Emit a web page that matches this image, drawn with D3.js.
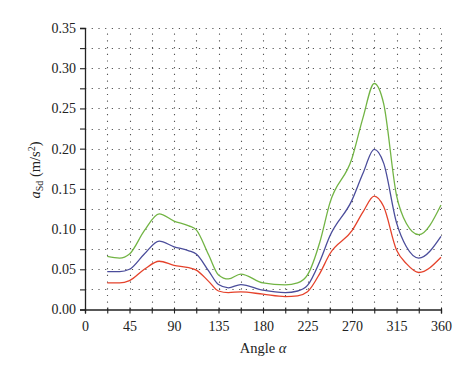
<!DOCTYPE html>
<html>
<head>
<meta charset="utf-8">
<script src="https://cdn.jsdelivr.net/npm/d3@7"></script>
<style>
  html, body { margin: 0; padding: 0; background: #fff; }
  svg { display: block; }
  .tick text { font-family: "Liberation Serif", "Times New Roman", serif; font-size: 14px; fill: #222; }
</style>
</head>
<body>
<svg id="chart" width="474" height="379"></svg>
<script>
const angles = [22.5, 35, 45, 60, 75, 90, 105, 112.5, 125, 135, 145, 157.5, 180, 202.5, 215, 225, 237.5, 247.5, 270, 281, 292.5, 302, 315, 325, 337.5, 360];
const greenVals = [0.066, 0.064, 0.069, 0.098, 0.119, 0.110, 0.104, 0.099, 0.068, 0.043, 0.038, 0.044, 0.033, 0.0305, 0.033, 0.043, 0.084, 0.132, 0.188, 0.238, 0.281, 0.256, 0.142, 0.107, 0.093, 0.130];
const blueVals  = [0.047, 0.047, 0.050, 0.069, 0.085, 0.078, 0.073, 0.069, 0.048, 0.031, 0.027, 0.031, 0.024, 0.021, 0.023, 0.030, 0.060, 0.091, 0.136, 0.169, 0.199, 0.182, 0.108, 0.078, 0.064, 0.091];
const redVals   = [0.033, 0.033, 0.036, 0.050, 0.060, 0.055, 0.052, 0.049, 0.035, 0.023, 0.021, 0.022, 0.019, 0.016, 0.017, 0.022, 0.045, 0.069, 0.098, 0.121, 0.141, 0.128, 0.074, 0.057, 0.046, 0.065];
const xTicks = d3.range(0, 360.01, 22.5);
const yTicks = d3.range(0, 0.3501, 0.025);
const xLabelTicks = [0, 45, 90, 135, 180, 225, 270, 315, 360];

const svg = d3.select("#chart");
const x = d3.scaleLinear().domain([0, 360]).range([85, 441]);
const y = d3.scaleLinear().domain([0, 0.35]).range([309.5, 28]);

// grid
const grid = svg.append("g").attr("stroke", "#555").attr("stroke-width", 1.1).attr("stroke-dasharray", "1.2,5.5");
grid.selectAll(".hg").data(yTicks.filter(d => d > 0.001)).join("line")
  .attr("x1", x(0)).attr("x2", x(360))
  .attr("y1", d => Math.round(y(d)) + 0.5).attr("y2", d => Math.round(y(d)) + 0.5);
grid.selectAll(".vg").data(xTicks.filter(d => d > 0)).join("line")
  .attr("x1", d => Math.round(x(d)) + 0.5).attr("x2", d => Math.round(x(d)) + 0.5)
  .attr("y1", y(0)).attr("y2", y(0.35));

// lines
const line = (vals) => d3.line().x((d, i) => x(angles[i])).y(d => y(d)).curve(d3.curveMonotoneX)(vals);
const series = [
  { vals: greenVals, color: "#72b444" },
  { vals: blueVals, color: "#4b4d9b" },
  { vals: redVals, color: "#e5422b" }
];
svg.append("g").selectAll("path").data(series).join("path")
  .attr("d", d => line(d.vals))
  .attr("fill", "none").attr("stroke", d => d.color).attr("stroke-width", 1.3);

// axes
const fmtY = d3.format(".2f");
const yAxis = d3.axisLeft(y).tickValues(yTicks).tickSize(5).tickPadding(4)
  .tickFormat(d => (Math.round(d * 1000) % 50 === 0) ? fmtY(d) : "");
const gy = svg.append("g").attr("transform", `translate(${x(0)},0)`).call(yAxis);
const xAxis = d3.axisBottom(x).tickValues(xTicks).tickSize(4).tickPadding(8)
  .tickFormat(d => xLabelTicks.includes(d) ? String(d) : "");
const gx = svg.append("g").attr("transform", `translate(0,${y(0)})`).call(xAxis);
[gx, gy].forEach(g => {
  g.select(".domain").attr("stroke", "#222").attr("stroke-width", 1.3);
  g.selectAll(".tick line").attr("stroke", "#222").attr("stroke-width", 1.1);
});
gx.selectAll(".tick line").attr("y1", -2);

// axis titles
svg.append("text")
  .attr("x", 263).attr("y", 353)
  .attr("text-anchor", "middle")
  .attr("font-family", "Liberation Serif, serif").attr("font-size", 14.5).attr("fill", "#222")
  .call(t => {
    t.append("tspan").text("Angle ");
    t.append("tspan").attr("font-style", "italic").text("α");
  });

const yt = svg.append("text")
  .attr("transform", "translate(40,170) rotate(-90)")
  .attr("text-anchor", "middle")
  .attr("font-family", "Liberation Serif, serif").attr("font-size", 14.5).attr("fill", "#222");
yt.append("tspan").attr("font-style", "italic").text("a");
yt.append("tspan").attr("font-size", 10).attr("dy", 3).text("Sd");
yt.append("tspan").attr("dy", -3).text(" (m/s");
yt.append("tspan").attr("font-size", 10).attr("dy", -5).text("2");
yt.append("tspan").attr("dy", 5).text(")");
</script>
</body>
</html>
